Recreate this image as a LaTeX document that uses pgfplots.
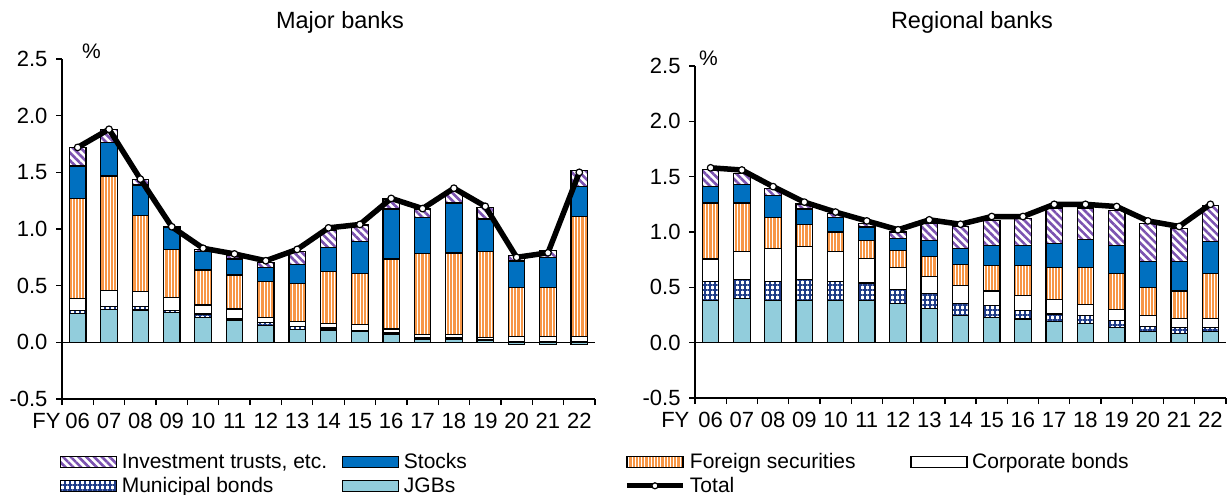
\documentclass[border=0pt]{standalone}
\usepackage{fontspec}
\setmainfont{Liberation Sans}
\usepackage{pgfplots}
\pgfplotsset{compat=1.18}
\usepackage{pgfplotstable}
\usetikzlibrary{patterns.meta}

\definecolor{jgb}{HTML}{92CDDC}
\definecolor{stk}{HTML}{0070C0}
\definecolor{frn}{HTML}{F79646}
\definecolor{itc}{HTML}{7B52B0}
\definecolor{mun}{HTML}{1F3C88}

\tikzset{
  itst/.style={draw=black, line width=1.2bp, pattern={Lines[angle=-45,distance=5.5bp,line width=2.6bp]}, pattern color=itc},
  stkst/.style={draw=black, line width=1.2bp, fill=stk},
  frnst/.style={draw=black, line width=1.2bp, pattern={Lines[angle=90,distance=3.2bp,line width=2.2bp]}, pattern color=frn},
  corst/.style={draw=black, line width=1.2bp, fill=white},
  munst/.style={draw=black, line width=1.2bp, pattern={Hatch[angle=0,distance=5bp,line width=1.1bp]}, pattern color=mun},
  jgbst/.style={draw=black, line width=1.2bp, fill=jgb},
}

\pgfplotstableread{
x jgb muni corp frn stk it total
0 0.257 0.023 0.104 0.886 0.286 0.164 1.72
1 0.287 0.029 0.142 1.010 0.298 0.114 1.88
2 0.285 0.030 0.135 0.668 0.270 0.052 1.44
3 0.265 0.015 0.117 0.421 0.192 0.010 1.02
4 0.220 0.030 0.080 0.308 0.162 0.020 0.83
5 0.197 0.013 0.084 0.300 0.141 0.030 0.78
6 0.147 0.029 0.044 0.318 0.124 0.044 0.72
7 0.112 0.029 0.044 0.335 0.170 0.110 0.82
8 0.109 0.017 0.042 0.456 0.214 0.147 1.01
9 0.097 0.008 0.051 0.453 0.282 0.144 1.04
10 0.074 0.014 0.030 0.617 0.441 0.089 1.27
11 0.024 0.014 0.030 0.717 0.318 0.073 1.18
12 0.024 0.014 0.030 0.720 0.441 0.100 1.36
13 0.015 0.010 0.019 0.756 0.288 0.102 1.20
14 -0.020 0.005 0.045 0.435 0.232 0.047 0.75
15 -0.020 0.005 0.045 0.435 0.265 0.058 0.79
16 -0.020 0.005 0.045 1.058 0.265 0.141 1.50
}\major

\pgfplotstableread{
x jgb muni corp frn stk it total
0 0.381 0.173 0.202 0.506 0.146 0.157 1.58
1 0.399 0.169 0.253 0.441 0.164 0.104 1.56
2 0.381 0.173 0.297 0.283 0.199 0.060 1.41
3 0.381 0.187 0.304 0.193 0.143 0.045 1.27
4 0.381 0.173 0.267 0.179 0.134 0.030 1.18
5 0.381 0.158 0.223 0.164 0.119 0.029 1.10
6 0.351 0.128 0.200 0.151 0.110 0.060 1.02
7 0.310 0.133 0.155 0.179 0.149 0.148 1.11
8 0.244 0.113 0.161 0.187 0.149 0.194 1.07
9 0.229 0.104 0.134 0.229 0.179 0.232 1.14
10 0.214 0.075 0.140 0.267 0.179 0.247 1.14
11 0.190 0.069 0.134 0.283 0.223 0.318 1.25
12 0.176 0.068 0.104 0.328 0.253 0.288 1.25
13 0.140 0.059 0.099 0.327 0.250 0.321 1.23
14 0.104 0.045 0.095 0.253 0.238 0.342 1.10
15 0.086 0.054 0.080 0.247 0.268 0.298 1.05
16 0.104 0.036 0.080 0.405 0.289 0.327 1.25
}\regional

\pgfplotsset{
  base/.style={scale only axis, anchor=south west, xmin=-0.5, xmax=16.5, ymin=-0.5, ymax=2.5, enlargelimits=false, clip=false},
  barax/.style={base, axis x line*=bottom, axis y line*=left,
    axis line style={line width=1.3bp, black},
    tick style={line width=1.3bp, black}, tick align=outside, major tick length=6bp,
    xtick={-0.5,0.5,...,16.5}, x tick label as interval,
    ytick={-0.5,0,0.5,1,1.5,2,2.5},
    yticklabels={-0.5,0.0,0.5,1.0,1.5,2.0,2.5},
    tick label style={font=\fontsize{22bp}{24bp}\selectfont},
    yticklabel style={xshift=-5bp},
    xticklabel style={yshift=-5bp},
    ybar stacked, bar width=16.5bp},
  lineax/.style={base, hide axis},
  totst/.style={black, line width=5.5bp, line join=round, mark=*, mark size=3.3bp, mark options={fill=white, draw=black, line width=1.2bp}},
}

\begin{document}
\begin{tikzpicture}[font=\fontsize{21bp}{24bp}\selectfont]
\path[use as bounding box] (0,0) rectangle (1227bp,495bp);

% ---------- Major banks ----------
\begin{axis}[barax, at={(62bp,96bp)}, width=533bp, height=340bp,
  xticklabels={\llap{FY\hspace{5bp}}06,07,08,09,10,11,12,13,14,15,16,17,18,19,20,21,22}]
\addplot[jgbst] table[x=x,y=jgb]{\major};
\addplot[munst] table[x=x,y=muni]{\major};
\addplot[corst] table[x=x,y=corp]{\major};
\addplot[frnst] table[x=x,y=frn]{\major};
\addplot[stkst] table[x=x,y=stk]{\major};
\addplot[itst] table[x=x,y=it]{\major};
\draw[black, line width=1.3bp] (axis cs:-0.5,0) -- (axis cs:16.5,0);
\node[anchor=base west, inner sep=0pt, xshift=20bp] at (rel axis cs:0,1) {\%};
\end{axis}
\begin{axis}[lineax, at={(62bp,96bp)}, width=533bp, height=340bp,
  legend columns=4, legend cell align=left,
  legend style={at={(axis description cs:-0.004,-0.156)}, anchor=north west, draw=none, fill=none,
    column sep=0pt, row sep=4bp, inner sep=0pt, nodes={inner sep=1.5bp}}]
\addlegendimage{legend image code/.code={\draw[itst] (0bp,-5.5bp) rectangle (56bp,5.5bp);}}
\addlegendentry{\makebox[222bp][l]{\hspace{3bp}Investment trusts, etc.}}
\addlegendimage{legend image code/.code={\draw[stkst] (0bp,-5.5bp) rectangle (56bp,5.5bp);}}
\addlegendentry{\makebox[222bp][l]{\hspace{3bp}Stocks}}
\addlegendimage{legend image code/.code={\draw[frnst] (0bp,-5.5bp) rectangle (56bp,5.5bp);}}
\addlegendentry{\makebox[222bp][l]{\hspace{3bp}Foreign securities}}
\addlegendimage{legend image code/.code={\draw[corst] (0bp,-5.5bp) rectangle (56bp,5.5bp);}}
\addlegendentry{\makebox[222bp][l]{\hspace{3bp}Corporate bonds}}
\addlegendimage{legend image code/.code={\draw[munst] (0bp,-5.5bp) rectangle (56bp,5.5bp);}}
\addlegendentry{\makebox[222bp][l]{\hspace{3bp}Municipal bonds}}
\addlegendimage{legend image code/.code={\draw[jgbst] (0bp,-5.5bp) rectangle (56bp,5.5bp);}}
\addlegendentry{\makebox[222bp][l]{\hspace{3bp}JGBs}}
\addlegendimage{legend image code/.code={\draw[black,line width=5bp] (0bp,0bp) -- (56bp,0bp); \draw[black,fill=white,line width=1.2bp] (28bp,0bp) circle (3bp);}}
\addlegendentry{\makebox[222bp][l]{\hspace{3bp}Total}}
\addplot[totst, forget plot] table[x=x,y=total]{\major};
\end{axis}

% ---------- Regional banks ----------
\begin{axis}[barax, at={(695bp,97bp)}, width=531bp, height=332bp,
  xticklabels={\llap{FY\hspace{9bp}}06,07,08,09,10,11,12,13,14,15,16,17,18,19,20,21,22}]
\addplot[jgbst] table[x=x,y=jgb]{\regional};
\addplot[munst] table[x=x,y=muni]{\regional};
\addplot[corst] table[x=x,y=corp]{\regional};
\addplot[frnst] table[x=x,y=frn]{\regional};
\addplot[stkst] table[x=x,y=stk]{\regional};
\addplot[itst] table[x=x,y=it]{\regional};
\draw[black, line width=1.3bp] (axis cs:-0.5,0) -- (axis cs:16.5,0);
\node[anchor=base west, inner sep=0pt, xshift=4bp] at (rel axis cs:0,1) {\%};
\end{axis}
\begin{axis}[lineax, at={(695bp,97bp)}, width=531bp, height=332bp]
\addplot[totst] table[x=x,y=total]{\regional};
\end{axis}

\node[font=\fontsize{23.5bp}{26bp}\selectfont] at (340bp,473bp) {Major banks};
\node[font=\fontsize{23.5bp}{26bp}\selectfont] at (972bp,473bp) {Regional banks};
\end{tikzpicture}
\end{document}
